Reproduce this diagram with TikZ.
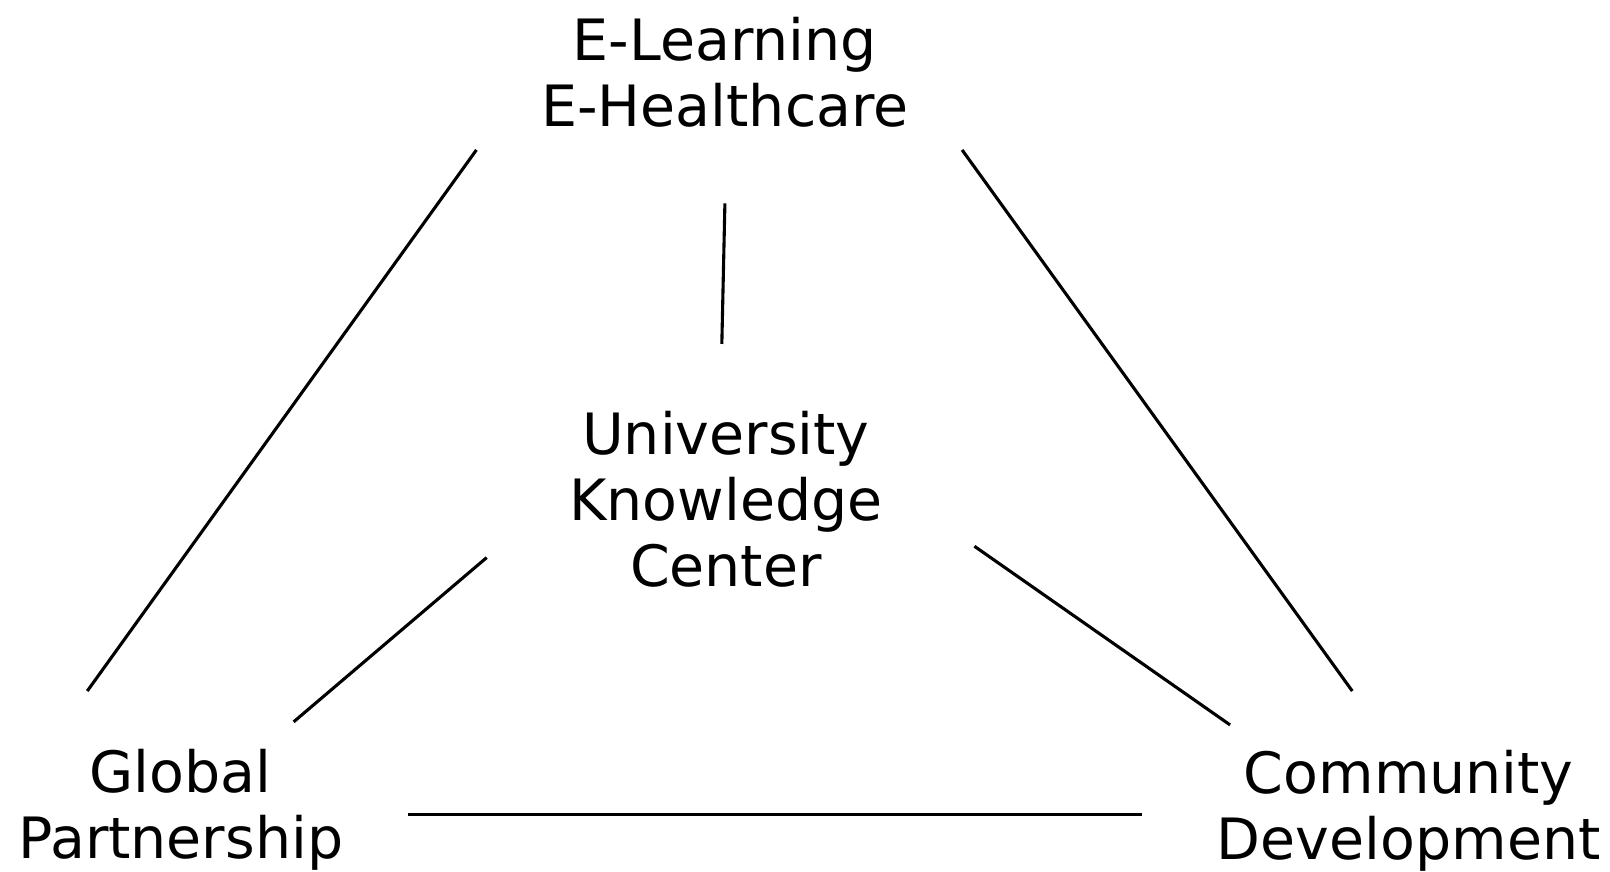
\documentclass[tikz,border=0pt]{standalone}
\usepackage{fontspec}
\setmainfont{DejaVu Sans}
\begin{document}
\begin{tikzpicture}[x=0.5135pt,y=-0.5135pt,
  lbl/.style={align=center,inner sep=0pt,font=\fontsize{28.5}{33}\selectfont},
  conn/.style={line width=1.55pt}]
\useasboundingbox (0,0) rectangle (1568,849);
\node[lbl] (top) at (706,70) {E-Learning\\E-Healthcare};
\node[lbl] (ukc) at (707,486) {University\\Knowledge\\Center};
\node[lbl] (gp) at (176,789) {Global\\Partnership};
\node[lbl] (cd) at (1372,790) {Community\\Development};
\coordinate (t1) at (464,146); \coordinate (g1) at (85,673);
\coordinate (t2) at (937,146); \coordinate (c1) at (1317,673);
\coordinate (t3) at (706,198); \coordinate (u1) at (703,335);
\coordinate (u2) at (474,543); \coordinate (g2) at (286,703);
\coordinate (u3) at (949,532); \coordinate (c2) at (1198,706);
\coordinate (g3) at (397,793); \coordinate (c3) at (1112,793);
\draw[conn] (t1) -- (g1);
\draw[conn] (t2) -- (c1);
\draw[conn] (t3) -- (u1);
\draw[conn] (u2) -- (g2);
\draw[conn] (u3) -- (c2);
\draw[conn] (g3) -- (c3);
\end{tikzpicture}
\end{document}
